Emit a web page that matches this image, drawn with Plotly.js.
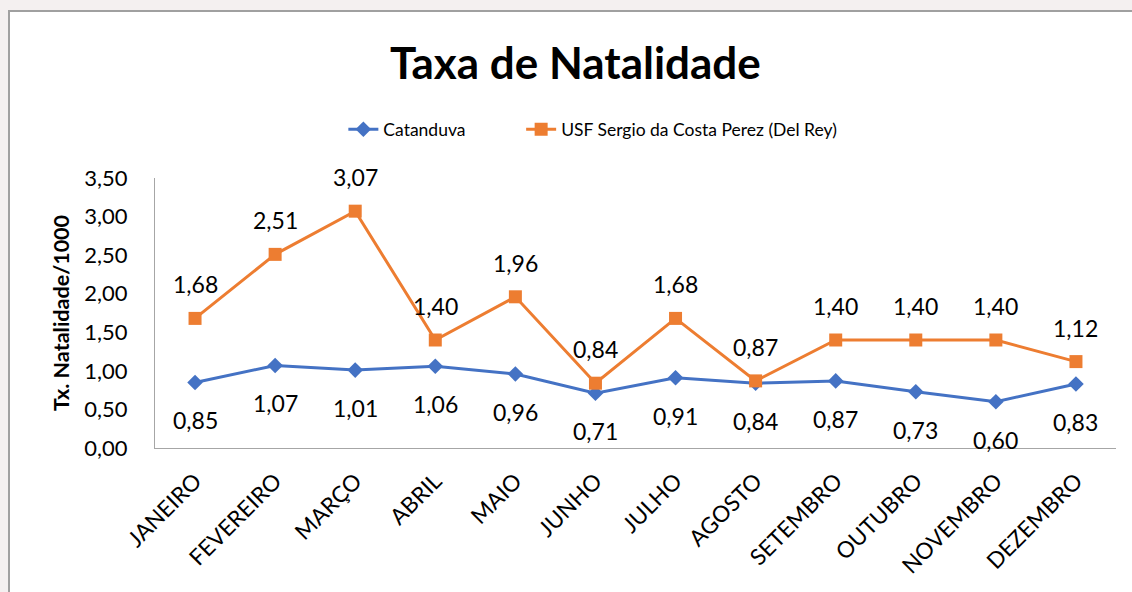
<!DOCTYPE html>
<html>
<head>
<meta charset="utf-8">
<script src="https://cdn.plot.ly/plotly-3.0.1.min.js"></script>
<style>
html,body{margin:0;padding:0;width:1132px;height:592px;overflow:hidden;background:#f4f0f0;}
#chart{position:absolute;left:8px;top:10px;width:1124px;height:582px;border-left:2px solid #a0a0a0;border-top:2px solid #a0a0a0;background:#fff;}
</style>
</head>
<body>
<div id="chart"></div>
<script>
const months = ['JANEIRO','FEVEREIRO','MARÇO','ABRIL','MAIO','JUNHO','JULHO','AGOSTO','SETEMBRO','OUTUBRO','NOVEMBRO','DEZEMBRO'];
const catanduva = [0.85, 1.07, 1.01, 1.06, 0.96, 0.71, 0.91, 0.84, 0.87, 0.73, 0.60, 0.83];
const usf = [1.68, 2.51, 3.07, 1.40, 1.96, 0.84, 1.68, 0.87, 1.40, 1.40, 1.40, 1.12];
const yTicks = [0, 0.5, 1, 1.5, 2, 2.5, 3, 3.5];

const fmt = v => v.toFixed(2).replace('.', ',');
const FONT = 'Lato, "Noto Sans", sans-serif';

const traces = [
  {
    x: months, y: catanduva, name: 'Catanduva', type: 'scatter', mode: 'lines+markers',
    line: {color: '#4472C4', width: 3},
    marker: {symbol: 'diamond', size: 12, color: '#4472C4'},
    legend: 'legend'
  },
  {
    x: months, y: usf, name: 'USF Sergio da Costa Perez (Del Rey)', type: 'scatter', mode: 'lines+markers',
    line: {color: '#ED7D31', width: 3},
    marker: {symbol: 'square', size: 13, color: '#ED7D31'},
    legend: 'legend2'
  }
];

const annotations = [];
months.forEach((m, i) => {
  annotations.push({x: m, y: usf[i], xref: 'x', yref: 'y', text: fmt(usf[i]), showarrow: false,
    yshift: 34, font: {family: FONT, size: 23, color: '#000'}});
  annotations.push({x: m, y: catanduva[i], xref: 'x', yref: 'y', text: fmt(catanduva[i]), showarrow: false,
    yshift: -38, font: {family: FONT, size: 23, color: '#000'}});
});

const legendBase = {orientation: 'h', y: 1.18, yanchor: 'middle', xanchor: 'left',
  font: {family: FONT, size: 17.5, color: '#000'}, bgcolor: 'rgba(0,0,0,0)'};

const layout = {
  width: 1124, height: 582,
  margin: {l: 145, r: 18, t: 166, b: 146},
  paper_bgcolor: '#ffffff', plot_bgcolor: '#ffffff',
  font: {family: FONT, color: '#000'},
  separators: ',.',
  title: {text: '<b>Taxa de Natalidade</b>', font: {family: FONT, size: 44, color: '#000'},
    xref: 'container', x: 0.503, xanchor: 'center', yref: 'container', y: 0.912, yanchor: 'middle'},
  showlegend: true,
  legend: Object.assign({}, legendBase, {x: 0.196}),
  legend2: Object.assign({}, legendBase, {x: 0.381}),
  xaxis: {type: 'category', showgrid: false, showline: true, linecolor: '#a6a6a6', linewidth: 1,
    ticks: '', tickangle: -45, tickfont: {family: FONT, size: 22.5, color: '#000'}, ticklabelstandoff: 10,
    zeroline: false, range: [-0.5, 11.5]},
  yaxis: {range: [0, 3.5], tickvals: yTicks, ticktext: yTicks.map(fmt), showgrid: false, showline: true,
    linecolor: '#a6a6a6', linewidth: 1, ticks: '', tickfont: {family: FONT, size: 22, color: '#000'},
    ticklabelstandoff: 22, zeroline: false,
    title: {text: '<b>Tx. Natalidade/1000</b>', font: {family: FONT, size: 21.5, color: '#000'}, standoff: 8}},
  annotations: annotations
};

Plotly.newPlot('chart', traces, layout, {displayModeBar: false, staticPlot: true});
</script>
</body>
</html>
